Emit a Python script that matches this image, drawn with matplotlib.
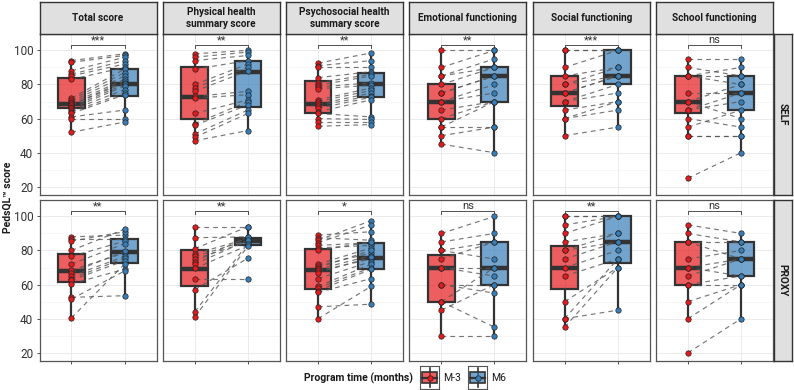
import matplotlib.pyplot as plt
import matplotlib.colors as mcolors
import numpy as np
from matplotlib.patches import Rectangle

plt.rcParams['font.family'] = ['Roboto', 'DejaVu Sans']

domains = ["Total score", "Physical health\nsummary score", "Psychosocial health\nsummary score",
           "Emotional functioning", "Social functioning", "School functioning"]
raters = ["SELF", "PROXY"]
groups = ["M-3", "M6"]
colors = ["#E41A1C", "#377EB8"]

# paired scores, same participant order in M-3 and M6 lists
self_m3 = [
    [94, 93, 88, 86, 85, 83, 72, 71, 70, 69, 68, 68, 67, 66, 65, 64, 63, 61, 60, 52],
    [98, 96, 94, 89, 80, 78, 76, 73, 72, 63, 57, 56, 51, 49, 47],
    [92.5, 91, 90, 84, 81, 79.5, 78.5, 77.5, 71, 70, 68.5, 67.5, 66, 64, 63, 60, 58, 55.5],
    [100, 90, 85, 85, 80, 75, 75, 70, 70, 65, 60, 55, 55, 50, 45],
    [100, 100, 90, 85, 80, 80, 75, 75, 70, 70, 65, 60, 60, 50],
    [95, 90, 85, 85, 85, 75, 70, 70, 65, 65, 60, 55, 50, 50, 25],
]
self_m6 = [
    [98, 97, 96, 94, 92, 90, 89, 87, 85, 83, 82, 81, 80, 79, 77, 75, 74, 65, 60, 58],
    [100, 99, 97, 94, 92, 90, 88, 76, 74, 71, 70, 68, 65, 63, 53],
    [98.5, 94, 90, 87.5, 86, 85, 81, 79.5, 78, 76.5, 75, 73.5, 72.5, 71, 61, 59.5, 58, 56.5],
    [100, 100, 95, 90, 90, 85, 85, 80, 75, 70, 70, 70, 55, 55, 40],
    [100, 100, 100, 90, 90, 85, 85, 85, 80, 75, 70, 70, 65, 55],
    [95, 85, 90, 80, 85, 75, 80, 60, 70, 75, 55, 65, 50, 50, 40],
]
proxy_m3 = [
    [88, 87, 85.5, 80, 76.5, 72, 68.5, 67, 65, 63.5, 62.5, 60.5, 52.5, 51.5, 40.5],
    [94, 87.5, 81, 78, 76.5, 75, 73.5, 72, 69.5, 63, 57, 44, 41],
    [89, 87.5, 86, 84.5, 83, 81.5, 80, 72, 71, 70, 69, 68, 67, 63.5, 59, 58, 56.5, 55.5, 47, 40],
    [90, 85, 80, 80, 75, 70, 70, 60, 60, 50, 50, 45, 30],
    [100, 100, 95, 90, 85, 80, 80, 75, 70, 65, 50, 40, 40, 35],
    [95, 90, 85, 85, 75, 70, 70, 65, 60, 60, 50, 40, 20],
]
proxy_m6 = [
    [89, 87, 91, 92.5, 85.5, 84, 78.5, 79.5, 76.5, 75.5, 74, 69, 53.5, 68, 72],
    [94, 88, 94, 87, 86, 85, 88, 86, 83, 63, 75.5, 84, 82.5],
    [91, 86, 97.5, 95, 84.5, 83, 85, 81.5, 78.5, 80, 77, 75, 76, 73.5, 72, 70, 69, 63.5, 48.5, 59],
    [100, 90, 75, 85, 85, 70, 65, 60, 55, 70, 35, 60, 30],
    [100, 100, 100, 100, 90, 85, 90, 85, 80, 75, 70, 75, 45, 70],
    [90, 85, 85, 75, 80, 75, 65, 75, 60, 65, 60, 60, 40],
]

# box stats: (q1, median, q3)
self_box_m3 = [(66, 68.5, 84), (59.5, 72.5, 90.5), (63.5, 68.5, 82), (60, 70, 80), (67.5, 75, 85), (63, 70, 85)]
self_box_m6 = [(73, 80.5, 89), (67, 87.5, 94), (72.5, 80.5, 87), (70, 85, 90), (80, 85, 100), (65, 75, 85)]
proxy_box_m3 = [(61.5, 68, 78), (59, 69, 80), (57.5, 68.5, 81), (50, 70, 77.5), (57.5, 70, 82.5), (60, 70, 85)]
proxy_box_m6 = [(72.5, 79, 87), (83, 85.5, 87.5), (69, 75.5, 84.5), (60, 70, 85), (72.5, 85, 100), (65, 75, 85)]

self_sig = ["***", "**", "**", "**", "***", "ns"]
proxy_sig = ["**", "**", "*", "ns", "**", "ns"]

W, H = 794, 390
fig = plt.figure(figsize=(W / 100, H / 100), dpi=100)


def px_axes(x0, y0, w, h):
    return fig.add_axes([x0 / W, 1 - (y0 + h) / H, w / W, h / H])


def box_stats(vals, q):
    q1, med, q3 = q
    iqr = q3 - q1
    lo = min(v for v in vals if v >= q1 - 1.5 * iqr)
    hi = max(v for v in vals if v <= q3 + 1.5 * iqr)
    return dict(q1=q1, med=med, q3=q3, whislo=lo, whishi=hi, fliers=[])


col_x = [39.5, 162.8, 286.1, 409.4, 532.7, 656]
pw = 117
row_y = [34, 200]
ph = 161

data = {
    0: (self_m3, self_m6, self_box_m3, self_box_m6, self_sig),
    1: (proxy_m3, proxy_m6, proxy_box_m3, proxy_box_m6, proxy_sig),
}

for r in range(2):
    m3s, m6s, b3s, b6s, sigs = data[r]
    for c in range(6):
        ax = px_axes(col_x[c], row_y[r], pw, ph)
        ax.set_xlim(0.4, 2.6)
        ax.set_ylim(15.2, 109.6)
        for v in [20, 40, 60, 80, 100]:
            ax.axhline(v, color="#EBEBEB", lw=0.7, zorder=0)
        for v in [30, 50, 70, 90]:
            ax.axhline(v, color="#F3F3F3", lw=0.45, zorder=0)
        for v in [1, 2]:
            ax.axvline(v, color="#EBEBEB", lw=0.7, zorder=0)

        m3, m6 = m3s[c], m6s[c]
        stats = [box_stats(m3, b3s[c]), box_stats(m6, b6s[c])]
        bp = ax.bxp(stats, positions=[1, 2], widths=0.5, patch_artist=True,
                    showfliers=False, showcaps=False,
                    boxprops=dict(edgecolor="#333333", linewidth=1.6),
                    medianprops=dict(color="#333333", linewidth=3.2),
                    whiskerprops=dict(color="#333333", linewidth=1.6))
        for patch, col in zip(bp["boxes"], colors):
            patch.set_facecolor(mcolors.to_rgba(col, 0.7))
            patch.set_zorder(2)

        for a, b in zip(m3, m6):
            ax.plot([1, 2], [a, b], color="#555555", lw=0.85, alpha=0.8,
                    linestyle=(0, (4, 3.5)), zorder=3)
        ax.scatter(np.ones(len(m3)), m3, s=15, color=colors[0], edgecolor="#222222",
                   linewidth=0.5, zorder=4)
        ax.scatter(np.full(len(m6), 2), m6, s=15, color=colors[1], edgecolor="#222222",
                   linewidth=0.5, zorder=4)

        ax.plot([1, 1, 2, 2], [101.4, 103, 103, 101.4], color="#333333", lw=0.6, zorder=3)
        ax.text(1.5, 102.9 if sigs[c] != "ns" else 103.4, sigs[c], ha="center", va="bottom",
                fontsize=8, color="#333333")

        for s in ax.spines.values():
            s.set_color("#555555")
            s.set_linewidth(0.9)
        ax.set_xticks([1, 2])
        ax.set_xticklabels([])
        ax.set_yticks([20, 40, 60, 80, 100])
        if c == 0:
            ax.tick_params(axis="y", labelsize=8.5, labelcolor="#333333", color="#333333",
                           length=2.5, width=0.6, pad=2)
        else:
            ax.tick_params(axis="y", length=0, labelleft=False)
        if r == 1:
            ax.tick_params(axis="x", length=2.5, width=0.6, color="#333333")
        else:
            ax.tick_params(axis="x", length=0)

        if r == 0:
            st = px_axes(col_x[c], 2, pw, 32)
            st.set_facecolor("#E0E0E0")
            st.set_xticks([])
            st.set_yticks([])
            for s in st.spines.values():
                s.set_color("#333333")
                s.set_linewidth(1.0)
            st.text(0.5, 0.5, domains[c], ha="center", va="center", fontsize=7.2,
                    fontweight="bold", color="#1A1A1A", linespacing=1.15,
                    transform=st.transAxes)

    rs = px_axes(773.5, row_y[r], 18.5, ph)
    rs.set_facecolor("#E0E0E0")
    rs.set_xticks([])
    rs.set_yticks([])
    for s in rs.spines.values():
        s.set_color("#333333")
        s.set_linewidth(1.0)
    rs.text(0.5, 0.5, raters[r], ha="center", va="center", rotation=-90, fontsize=7.2,
            fontweight="bold", color="#1A1A1A", transform=rs.transAxes)

fig.text(7.5 / W, 1 - 197 / H, "PedsQL\u2122 score", rotation=90, ha="center", va="center",
         fontsize=7.5, fontweight="bold", color="#1A1A1A")

# legend
fig.text(413 / W, 1 - 378 / H, "Program time (months)", ha="right", va="center",
         fontsize=7.5, fontweight="bold", color="#1A1A1A")
key_x = [420, 468]
lab_x = [443.5, 491.5]
for i in range(2):
    k = px_axes(key_x[i], 366, 19, 23)
    k.set_xlim(0, 1)
    k.set_ylim(0, 1)
    k.set_xticks([])
    k.set_yticks([])
    for s in k.spines.values():
        s.set_color("#555555")
        s.set_linewidth(0.8)
    k.plot([0.5, 0.5], [0.1, 0.9], color="#333333", lw=1.2)
    k.add_patch(Rectangle((0.12, 0.27), 0.76, 0.46, facecolor=mcolors.to_rgba(colors[i], 0.7),
                          edgecolor="#333333", lw=1.2, zorder=2))
    k.plot([0.12, 0.88], [0.5, 0.5], color="#333333", lw=1.6, zorder=3)
    k.scatter([0.5], [0.5], s=15, color=colors[i], edgecolor="#222222", linewidth=0.5, zorder=4)
    fig.text(lab_x[i] / W, 1 - 378 / H, groups[i], ha="left", va="center", fontsize=7.5,
             color="#1A1A1A")

fig.savefig("out.png", dpi=100)
